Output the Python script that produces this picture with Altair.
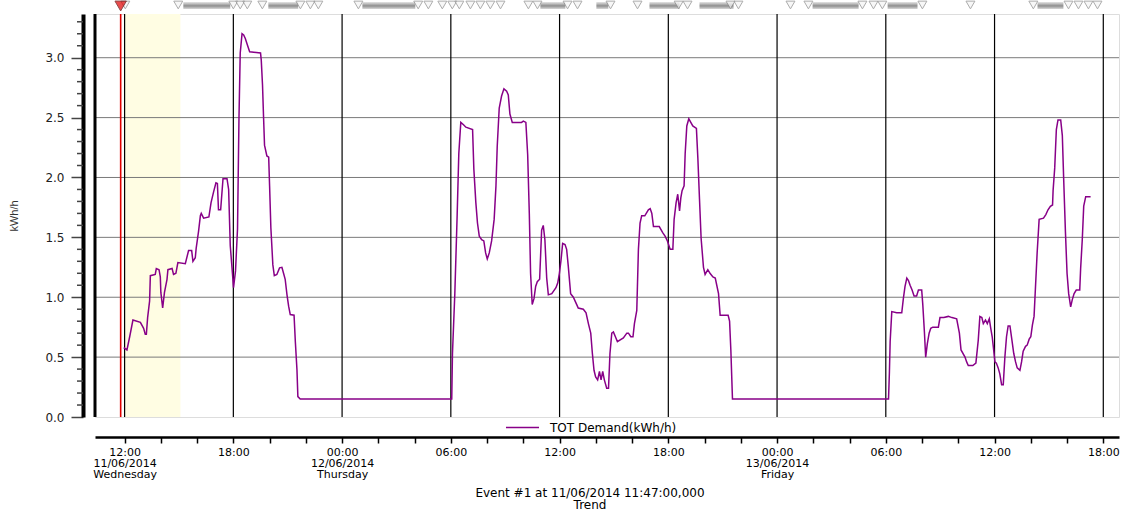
import altair as alt
import pandas as pd

# ---------------- data (hours counted from 11/06/2014 00:00) ----------------
demand_hours = [
    11.95, 12.13, 12.28, 12.46, 12.87, 13.05, 13.14, 13.2, 13.27, 13.38, 13.42, 13.69, 13.75, 13.9,
    13.97, 14.0, 14.1, 14.2, 14.34, 14.39, 14.62, 14.7, 14.83, 14.94, 15.35, 15.53, 15.7, 15.77,
    15.9, 15.95, 16.08, 16.18, 16.23, 16.36, 16.65, 16.77, 16.91, 17.04, 17.12, 17.18, 17.3, 17.43,
    17.65, 17.74, 17.83, 17.96, 18.01, 18.12, 18.23, 18.31, 18.38, 18.48, 18.57, 18.66, 18.79, 18.9,
    19.5, 19.54, 19.61, 19.67, 19.72, 19.85, 19.95, 20.0, 20.07, 20.18, 20.26, 20.4, 20.55, 20.68,
    20.77, 20.86, 20.96, 21.05, 21.14, 21.35, 21.42, 21.51, 21.56, 21.69, 30.05,
    30.09, 30.22, 30.35, 30.44, 30.55, 30.7, 30.83, 31.2, 31.27, 31.38, 31.47, 31.57, 31.7, 31.82,
    31.92, 32.01, 32.12, 32.25, 32.39, 32.49, 32.56, 32.67, 32.8, 32.93, 33.08, 33.17, 33.26, 33.39,
    33.9, 34.0, 34.14, 34.24, 34.33, 34.4, 34.49, 34.59, 34.68, 34.77, 34.9, 35.01, 35.1, 35.19,
    35.29, 35.38, 35.57, 35.8, 35.9, 35.99, 36.08, 36.17, 36.3, 36.39, 36.48, 36.61, 36.76, 36.94,
    37.03, 37.31, 37.46, 37.59, 37.72, 37.81, 37.9, 37.99, 38.1, 38.2, 38.29, 38.38, 38.47, 38.6,
    38.7, 38.78, 38.88, 38.97, 39.08, 39.19, 39.52, 39.71, 39.8, 39.93, 40.05, 40.13, 40.26, 40.35,
    40.44, 40.53, 40.7, 40.9, 41.0, 41.09, 41.18, 41.5, 41.69, 41.82, 41.95, 42.1, 42.25, 42.32,
    42.43, 42.52, 42.62, 42.69, 42.76, 42.87, 42.93, 43.02, 43.13, 43.24, 43.35, 43.55, 43.63, 43.72,
    43.81, 43.94, 44.03, 44.18, 44.3, 44.46, 44.59, 44.77, 44.86, 45.3, 45.38, 45.45, 45.54, 54.1,
    54.15, 54.2, 54.24, 54.33, 54.6, 54.88, 54.97, 55.06, 55.16, 55.25, 55.34, 55.45, 55.56, 55.7,
    55.8, 55.98, 56.04, 56.13, 56.2, 56.29, 56.39, 56.48, 56.59, 56.9, 56.99, 57.2, 57.45, 57.65,
    57.91, 58.06, 58.15, 58.37, 58.46, 58.55, 58.8, 58.97, 59.1, 59.19, 59.3, 59.38, 59.5, 59.6,
    59.71, 59.78, 59.87, 59.93, 60.02, 60.1, 60.2, 60.29, 60.39, 60.48, 60.57, 60.66, 60.75, 60.85,
    60.97, 61.06, 61.16, 61.25, 61.4, 61.49, 61.58, 61.71, 61.8, 61.91, 62.0, 62.09, 62.18, 62.26,
    62.35, 62.46, 62.7, 62.83, 62.95, 63.08, 63.2, 63.23, 63.32, 63.41, 63.5, 63.65, 63.74, 63.82,
    63.91, 64.0, 64.09, 64.2, 64.29, 64.39, 64.51, 64.7, 64.75, 64.84, 64.92, 65.03, 65.3,
]
demand_values = [
    0.58, 0.56, 0.67, 0.81, 0.79, 0.74, 0.69, 0.69, 0.83, 0.97, 1.18, 1.19, 1.24, 1.23,
    1.17, 1.04, 0.91, 1.04, 1.15, 1.23, 1.24, 1.19, 1.2, 1.29, 1.28, 1.39, 1.39, 1.3,
    1.33, 1.41, 1.55, 1.68, 1.7, 1.66, 1.67, 1.79, 1.88, 1.955, 1.95, 1.73, 1.73, 1.99,
    1.99, 1.9, 1.43, 1.18, 1.08, 1.22, 1.57, 2.49, 3.04, 3.2, 3.19, 3.16, 3.1, 3.05,
    3.04, 2.98, 2.77, 2.49, 2.27, 2.18, 2.17, 1.93, 1.58, 1.27, 1.18, 1.19, 1.245, 1.25,
    1.2, 1.15, 1.02, 0.925, 0.855, 0.85, 0.63, 0.395, 0.17, 0.15, 0.15,
    0.53, 1.03, 1.69, 2.2, 2.46, 2.44, 2.42, 2.4, 2.07, 1.79, 1.62, 1.51, 1.48, 1.47,
    1.37, 1.32, 1.37, 1.47, 1.65, 1.93, 2.26, 2.58, 2.68, 2.74, 2.72, 2.69, 2.53, 2.46,
    2.46, 2.47, 2.46, 2.19, 1.7, 1.2, 0.94, 0.99, 1.09, 1.13, 1.15, 1.56, 1.6, 1.48,
    1.16, 1.02, 1.03, 1.08, 1.12, 1.2, 1.31, 1.45, 1.44, 1.4, 1.26, 1.03, 1.0, 0.94,
    0.91, 0.9, 0.87, 0.78, 0.7, 0.53, 0.39, 0.335, 0.31, 0.38, 0.31, 0.38, 0.31, 0.24,
    0.24, 0.53, 0.7, 0.71, 0.67, 0.63, 0.66, 0.7, 0.7, 0.67, 0.67, 0.78, 0.89, 1.4,
    1.62, 1.68, 1.68, 1.73, 1.74, 1.7, 1.59, 1.59, 1.54, 1.51, 1.47, 1.4, 1.4, 1.65,
    1.79, 1.86, 1.72, 1.83, 1.89, 1.93, 2.2, 2.43, 2.49, 2.46, 2.43, 2.41, 2.16, 1.82,
    1.49, 1.25, 1.19, 1.23, 1.2, 1.17, 1.16, 1.03, 0.85, 0.85, 0.8, 0.56, 0.15, 0.15,
    0.15, 0.38, 0.63, 0.88, 0.87, 0.87, 0.99, 1.09, 1.16, 1.14, 1.1, 1.06, 1.01, 1.01,
    1.06, 1.06, 0.94, 0.71, 0.5, 0.61, 0.7, 0.74, 0.75, 0.75, 0.83, 0.83, 0.84, 0.83,
    0.82, 0.7, 0.56, 0.5, 0.46, 0.43, 0.43, 0.45, 0.64, 0.84, 0.83, 0.78, 0.81, 0.78,
    0.82, 0.75, 0.67, 0.59, 0.46, 0.45, 0.41, 0.36, 0.27, 0.27, 0.5, 0.67, 0.76, 0.76,
    0.63, 0.53, 0.46, 0.41, 0.39, 0.46, 0.55, 0.59, 0.6, 0.65, 0.67, 0.77, 0.84, 1.09,
    1.37, 1.65, 1.66, 1.69, 1.73, 1.76, 1.77, 1.89, 2.08, 2.4, 2.48, 2.48, 2.35, 1.96,
    1.55, 1.2, 1.03, 0.92, 0.98, 1.03, 1.06, 1.06, 1.24, 1.48, 1.76, 1.84, 1.84,
]
series_name = "TOT Demand(kWh/h)"

event_hour = [11.783]                       # Event #1 at 11:47
band_start_hour = [12.0]                    # highlighted period
band_end_hour = [15.08]
grid_hours = [12, 18, 24, 30, 36, 42, 48, 54, 60, 66]
x_tick_hours = [12, 14, 16, 18, 20, 22, 24, 26, 28, 30, 32, 34, 36, 38, 40, 42, 44, 46, 48, 50,
                52, 54, 56, 58, 60, 62, 64, 66]
grid_values = [0.5, 1.0, 1.5, 2.0, 2.5, 3.0]
y_label_values = [0.0, 0.5, 1.0, 1.5, 2.0, 2.5, 3.0]
y_minor_values = [0.1, 0.2, 0.3, 0.4, 0.6, 0.7, 0.8, 0.9, 1.1, 1.2, 1.3, 1.4, 1.6, 1.7, 1.8, 1.9,
                  2.1, 2.2, 2.3, 2.4, 2.6, 2.7, 2.8, 2.9, 3.1, 3.2, 3.3]
marker_hours = [12.04, 14.96, 18.0, 18.38, 18.77, 19.6, 21.7, 22.25, 22.69, 24.9, 28.2, 28.76,
                29.53, 30.08, 30.47, 31.08, 31.63, 32.18, 32.74, 34.28, 34.78, 36.44, 36.99,
                38.81, 40.3, 42.57, 43.06, 45.43, 45.87, 48.74, 49.73, 52.71, 53.32, 53.81,
                56.02, 58.67, 62.14, 64.08, 64.63, 65.18, 65.68]
marker_band_start = [15.24, 19.93, 25.12, 34.94, 38.03, 40.96, 43.72, 49.96, 54.1, 62.37]
marker_band_end = [17.83, 21.58, 28.04, 36.32, 38.69, 42.62, 45.6, 52.5, 55.75, 63.8]

base = pd.Timestamp("2014-06-11 00:00:00")


def ts(h):
    return (base + pd.to_timedelta(h, unit="h")).strftime("%Y-%m-%dT%H:%M:%S")


def dt(h):
    t = base + pd.to_timedelta(h, unit="h")
    return alt.DateTime(year=t.year, month=t.month, date=t.day, hours=t.hour, minutes=t.minute)


line_df = pd.DataFrame({"time": [ts(h) for h in demand_hours], "value": demand_values,
                        "series": series_name})
band_df = pd.DataFrame({"start": [ts(h) for h in band_start_hour], "end": [ts(h) for h in band_end_hour]})
vgrid_df = pd.DataFrame({"time": [ts(h) for h in grid_hours]})
hgrid_df = pd.DataFrame({"value": grid_values})
yminor_df = pd.DataFrame({"value": y_minor_values})
event_df = pd.DataFrame({"time": [ts(h) for h in event_hour]})
marker_df = pd.DataFrame({"time": [ts(h) for h in marker_hours]})
mband_df = pd.DataFrame({"start": [ts(h) for h in marker_band_start],
                         "end": [ts(h) for h in marker_band_end]})

W, H = 1024, 403
FONT = "DejaVu Sans"

xs = alt.Scale(domain=[dt(10.3833), dt(66.8833)])
ys = alt.Scale(domain=[0, 3.365], nice=False, zero=False)

x_label_expr = (
    "hours(datum.value) % 6 != 0 ? '' : "
    "((hours(datum.value) == 0 || (date(datum.value) == 11 && hours(datum.value) == 12)) ? "
    "[timeFormat(datum.value, '%H:%M'), timeFormat(datum.value, '%d/%m/%Y'), timeFormat(datum.value, '%A')] : "
    "timeFormat(datum.value, '%H:%M'))"
)

x_axis = alt.Axis(
    title=None, offset=20, grid=False,
    values=[dt(h) for h in x_tick_hours],
    domainColor="black", domainWidth=2.5,
    tickColor="black", tickWidth=1.5, tickSize=6,
    labelExpr=x_label_expr, labelFont=FONT, labelFontSize=11, labelColor="black",
    labelPadding=3, labelLineHeight=11, labelOverlap=False, labelFlush=False,
)

y_axis = alt.Axis(
    title="kWh/h", titleFont="Liberation Sans", titleFontSize=11, titleFontWeight="normal",
    titleColor="#333333", titlePadding=25,
    offset=12, grid=False, values=y_label_values, format=".1f",
    domainColor="black", domainWidth=4,
    tickColor="#444444", tickWidth=1.5, tickSize=12,
    labelFont=FONT, labelFontSize=12, labelColor="#222222", labelPadding=7,
    labelOverlap=False, labelFlush=False,
)

band = alt.Chart(band_df).mark_rect(color="#FFFDE3").encode(
    x=alt.X("start:T", scale=xs, axis=x_axis), x2="end:T",
    y=alt.value(0), y2=alt.value("height"),
)

hgrid = alt.Chart(hgrid_df).mark_rule(color="#7a7a7a", strokeWidth=1).encode(
    y=alt.Y("value:Q", scale=ys, axis=y_axis),
    x=alt.value(0), x2=alt.value("width"),
)

yminor = alt.Chart(yminor_df).mark_rule(color="#444444", strokeWidth=1.5).encode(
    y=alt.Y("value:Q", scale=ys, axis=y_axis),
    x=alt.value(-18), x2=alt.value(-12),
)

vgrid = alt.Chart(vgrid_df).mark_rule(color="black", strokeWidth=1.2).encode(
    x=alt.X("time:T", scale=xs, axis=x_axis),
    y=alt.value(0), y2=alt.value("height"),
)

event_line = alt.Chart(event_df).mark_rule(color="#e00000", strokeWidth=1.6).encode(
    x=alt.X("time:T", scale=xs, axis=x_axis),
    y=alt.value(0), y2=alt.value("height"),
)

left_edge = alt.Chart(event_df).mark_rule(color="black", strokeWidth=3).encode(
    x=alt.value(0), y=alt.value(0), y2=alt.value("height"),
)

line = alt.Chart(line_df).mark_line(strokeWidth=1.5, interpolate="linear").encode(
    x=alt.X("time:T", scale=xs, axis=x_axis),
    y=alt.Y("value:Q", scale=ys, axis=y_axis),
    color=alt.Color("series:N", scale=alt.Scale(range=["#880088"]),
                    legend=alt.Legend(title=None, orient="none", legendX=410, legendY=396,
                                      symbolType="stroke", symbolSize=1090, symbolStrokeWidth=1.5,
                                      labelFont=FONT, labelFontSize=12, labelColor="black",
                                      labelOffset=10, padding=0)),
)

mbands = alt.Chart(mband_df).mark_rect(
    color=alt.Gradient(gradient="linear", x1=0, x2=0, y1=0, y2=1,
                       stops=[alt.GradientStop(color="#e6e6e6", offset=0),
                              alt.GradientStop(color="#8f8f8f", offset=0.55),
                              alt.GradientStop(color="#d8d8d8", offset=1)])
).encode(
    x=alt.X("start:T", scale=xs, axis=x_axis), x2="end:T",
    y=alt.value(-12), y2=alt.value(-5),
)

markers = alt.Chart(marker_df).mark_point(
    shape="triangle-down", size=80, filled=True, fill="#f4f4f4", stroke="#8a8a8a", strokeWidth=1
).encode(
    x=alt.X("time:T", scale=xs, axis=x_axis), y=alt.value(-9),
)

event_marker = alt.Chart(event_df).mark_point(
    shape="triangle-down", size=130, filled=True, fill="#e00000", stroke="#600000", strokeWidth=1
).encode(
    x=alt.X("time:T", scale=xs, axis=x_axis), y=alt.value(-8),
)

chart = alt.layer(
    band, hgrid, yminor, vgrid, event_line, left_edge, line, mbands, markers, event_marker
).properties(
    width=W, height=H,
    autosize=alt.AutoSizeParams(type="none"),
    padding={"left": 95, "top": 14, "right": 12, "bottom": 95},
    title=alt.TitleParams(
        text=["Event #1 at 11/06/2014 11:47:00,000", "Trend"],
        orient="bottom", anchor="middle", dx=-17, offset=9,
        font=FONT, fontSize=12, fontWeight="normal", color="black", lineHeight=12,
    ),
).configure_view(
    stroke="black", strokeWidth=1
).configure(background="white")

chart.save("out.html", embed_options={"renderer": "svg", "actions": False})
